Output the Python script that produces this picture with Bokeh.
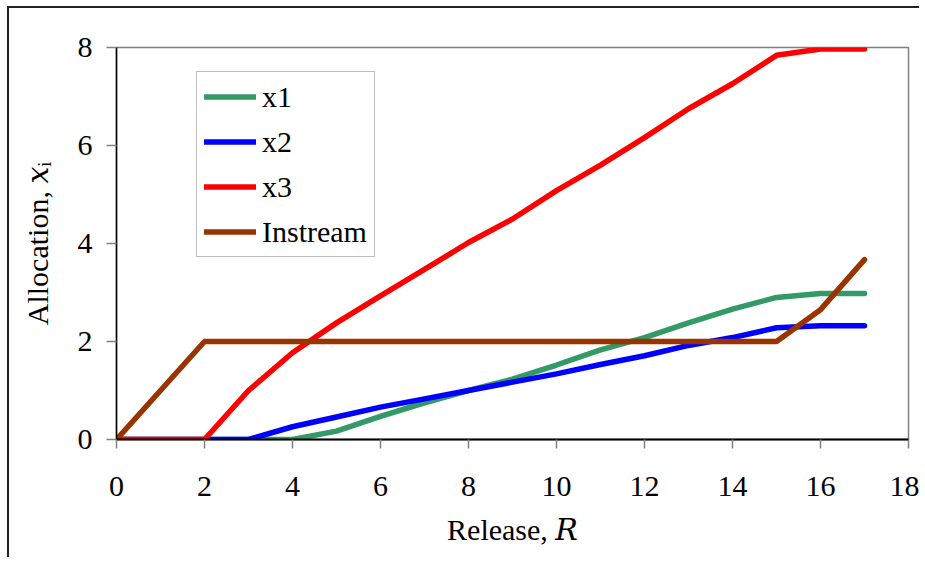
from bokeh.plotting import figure
from bokeh.models import Legend, LegendItem, FixedTicker, Range1d
from bokeh.embed import file_html
from bokeh.resources import INLINE

# ---- data ----
release = list(range(18))
x1 = [0, 0, 0, 0, 0, 0.17, 0.47, 0.75, 1.0, 1.23, 1.52, 1.83, 2.08, 2.38, 2.66, 2.9, 2.98, 2.98]
x2 = [0, 0, 0, 0, 0.26, 0.46, 0.66, 0.83, 1.0, 1.17, 1.34, 1.53, 1.71, 1.92, 2.08, 2.28, 2.32, 2.32]
x3 = [0, 0, 0, 1.0, 1.77, 2.38, 2.93, 3.47, 4.02, 4.5, 5.08, 5.6, 6.16, 6.75, 7.26, 7.84, 7.97, 7.97]
instream = [0, 1, 2, 2, 2, 2, 2, 2, 2, 2, 2, 2, 2, 2, 2, 2, 2.65, 3.67]

series_names = ["x1", "x2", "x3", "Instream"]
series_colors = ["#339966", "#0000FF", "#FF0000", "#993300"]
x_ticks = [0, 2, 4, 6, 8, 10, 12, 14, 16, 18]
y_ticks = [0, 2, 4, 6, 8]
x_title = "Release, \U0001D445"
y_title = "Allocation, \U0001D465\u1D62"

FONT = "Liberation Serif"
TITLE_FONT = "Liberation Serif, DejaVu Serif, serif"

p = figure(width=912, height=551,
           x_range=Range1d(0, 18), y_range=Range1d(0, 8),
           output_backend="svg", toolbar_location=None,
           min_border_left=107, min_border_right=13,
           min_border_top=39, min_border_bottom=120)
p.styles = {"border-top": "2px solid #222222", "border-left": "2px solid #222222",
            "margin-top": "6px", "margin-left": "7px"}

p.xgrid.visible = False
p.ygrid.visible = False
p.background_fill_color = "white"
p.border_fill_color = "white"
p.outline_line_color = "#808080"
p.outline_line_width = 1.5

for ax, ticks in ((p.xaxis, x_ticks), (p.yaxis, y_ticks)):
    ax.ticker = FixedTicker(ticks=ticks)
    ax.axis_line_color = "black"
    ax.major_tick_line_color = "#808080"
    ax.major_tick_line_width = 1.5
    ax.major_tick_in = 0
    ax.minor_tick_line_color = None
    ax.major_label_text_font = FONT
    ax.major_label_text_font_size = "30px"
    ax.major_label_text_color = "black"
    ax.axis_label_text_font = TITLE_FONT
    ax.axis_label_text_font_size = "30px"
    ax.axis_label_text_font_style = "normal"
    ax.axis_label_text_color = "black"

p.xaxis.axis_line_width = 2
p.xaxis.major_tick_out = 9
p.xaxis.major_label_standoff = 28
p.xaxis.axis_label = x_title
p.xaxis.axis_label_standoff = 14

p.yaxis.axis_line_width = 1.5
p.yaxis.major_tick_out = 10
p.yaxis.major_label_standoff = 14
p.yaxis.axis_label = y_title
p.yaxis.axis_label_standoff = 21

renderers = []
for ys, c in zip([x1, x2, x3, instream], series_colors):
    r = p.line(release, ys, line_color=c, line_width=5.5, line_cap="round")
    renderers.append(r)

legend = Legend(items=[LegendItem(label=n, renderers=[r]) for n, r in zip(series_names, renderers)],
                location=(80, 182), orientation="vertical",
                border_line_color="#808080", border_line_width=1.5,
                background_fill_color="white", background_fill_alpha=1.0,
                padding=7, spacing=10, margin=0,
                glyph_width=52, glyph_height=35, label_height=35, label_standoff=6,
                label_text_font=FONT, label_text_font_size="30px", label_text_color="black")
p.add_layout(legend)

open("out.html", "w").write(file_html(p, INLINE))
